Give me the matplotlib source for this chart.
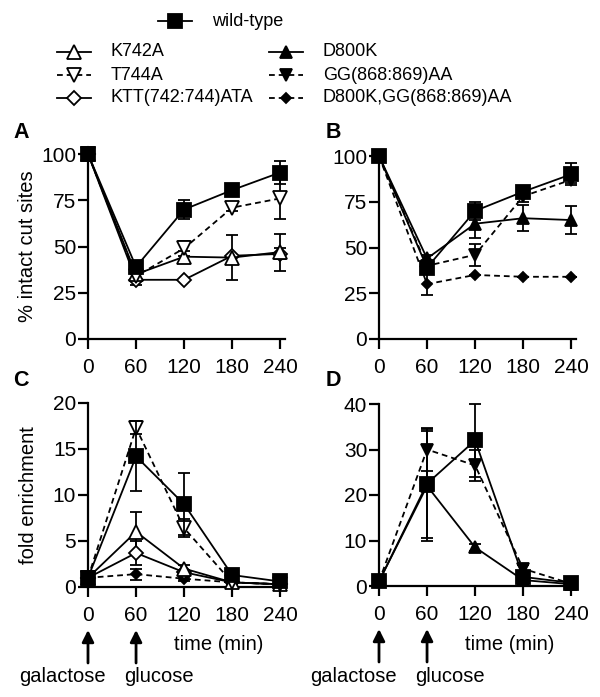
import numpy as np
import matplotlib
matplotlib.use('Agg')
import matplotlib.pyplot as plt
from matplotlib.lines import Line2D
from matplotlib.transforms import blended_transform_factory

plt.rcParams['font.family'] = ['Liberation Sans', 'DejaVu Sans']

time = [0, 60, 120, 180, 240]

# A: % intact cut sites
a_wt = [100, 39, 70, 80.5, 90]
a_wt_err = [0, 2, 5, 2, 6]
a_k742a = [100, 35, 44.5, 44, 47]
a_k742a_err = [0, 2, 3, 12, 10]
a_t744a = [100, 34, 49, 71, 76]
a_t744a_err = [0, 2, 4, 2, 11]
a_ktt = [100, 32, 32, 45, 46]
a_ktt_err = [0, 3, 0, 0, 3]

# B
b_wt = a_wt
b_wt_err = a_wt_err
b_d800k = [100, 44, 63, 66, 65]
b_d800k_err = [0, 2, 8, 7, 7.5]
b_gg = [100, 40, 46, 78, 87]
b_gg_err = [0, 2, 6, 3, 2]
b_dgg = [100, 30, 35, 34, 34]
b_dgg_err = [0, 6, 0, 0, 0]

# C: fold enrichment
c_wt = [1, 14.2, 9.0, 1.3, 0.6]
c_wt_err = [0, 3.8, 3.4, 0.3, 0.2]
c_k742a = [1, 6.0, 2.0, 0.5, 0.3]
c_k742a_err = [0, 2.2, 0.4, 0.2, 0.2]
c_t744a = [1, 17.3, 6.4, 0.5, 0.3]
c_t744a_err = [0, 0.7, 1.0, 0.2, 0.6]
c_ktt = [1, 3.7, 1.6, 0.5, 0.3]
c_ktt_err = [0, 1.3, 0.3, 0.1, 0.1]
c_dgg = [1, 1.4, 0.9, 0.5, 0.3]
c_dgg_err = [0, 0.6, 0.2, 0.1, 0.1]

# D
d_wt = [1, 22.5, 32, 2, 0.7]
d_wt_err = [0, 12, 8, 1, 0.3]
d_d800k = [1, 22, 8.5, 1.3, 0.4]
d_d800k_err = [0, 12, 0.8, 0.3, 0.2]
d_gg = [1, 30, 26.5, 3.8, 0.5]
d_gg_err = [0, 4.8, 3.5, 0.8, 0.2]

labels = ['wild-type', 'K742A', 'T744A', 'KTT(742:744)ATA',
          'D800K', 'GG(868:869)AA', 'D800K,GG(868:869)AA']

dash = (0, (3.2, 2.2))
styles = {
    'wild-type': dict(marker='s', ms=10.5, mfc='black', ls='-'),
    'K742A': dict(marker='^', ms=10.5, mfc='white', ls='-'),
    'T744A': dict(marker='v', ms=10.5, mfc='white', ls=dash),
    'KTT(742:744)ATA': dict(marker='D', ms=7.5, mfc='white', ls='-'),
    'D800K': dict(marker='^', ms=9, mfc='black', ls='-'),
    'GG(868:869)AA': dict(marker='v', ms=9, mfc='black', ls=dash),
    'D800K,GG(868:869)AA': dict(marker='D', ms=5.5, mfc='black', ls=dash),
}

fig = plt.figure(figsize=(6, 6.97), dpi=100)

W, H = 600, 697


def add_axes(left, bottom_px, height_px):
    return fig.add_axes([left / W, 1 - bottom_px / H, 197 / W, height_px / H])


def draw(ax, series, ymax, yticks):
    for name, y, err in series:
        st = styles[name]
        ax.errorbar(time, y, yerr=err, color='black', lw=1.3, ls=st['ls'],
                    marker=st['marker'], ms=st['ms'], mfc=st['mfc'], mec='black',
                    mew=1.3, capsize=4.5, capthick=1.3, elinewidth=1.3,
                    clip_on=False, zorder=3 if name != 'wild-type' else 4)
    ax.set_xlim(0, 246)
    ax.set_ylim(0, ymax)
    ax.set_xticks(time)
    ax.set_yticks(yticks)
    for s in ['top', 'right']:
        ax.spines[s].set_visible(False)
    for s in ['left', 'bottom']:
        ax.spines[s].set_linewidth(1.6)
    ax.tick_params(direction='out', length=7, width=1.6, labelsize=15, pad=1.5)
    ax.tick_params(axis='x', pad=7)


axA = add_axes(88, 339, 185)
draw(axA, [('KTT(742:744)ATA', a_ktt, a_ktt_err), ('K742A', a_k742a, a_k742a_err),
           ('T744A', a_t744a, a_t744a_err), ('wild-type', a_wt, a_wt_err)],
     100, [0, 25, 50, 75, 100])
axA.set_ylabel('% intact cut sites', fontsize=14.5, labelpad=3)

axB = add_axes(379, 339, 183)
draw(axB, [('D800K,GG(868:869)AA', b_dgg, b_dgg_err), ('GG(868:869)AA', b_gg, b_gg_err),
           ('D800K', b_d800k, b_d800k_err), ('wild-type', b_wt, b_wt_err)],
     100, [0, 25, 50, 75, 100])

axC = add_axes(88, 587, 184)
draw(axC, [('D800K,GG(868:869)AA', c_dgg, c_dgg_err), ('KTT(742:744)ATA', c_ktt, c_ktt_err),
           ('K742A', c_k742a, c_k742a_err), ('T744A', c_t744a, c_t744a_err),
           ('wild-type', c_wt, c_wt_err)],
     20, [0, 5, 10, 15, 20])
axC.set_ylabel('fold enrichment', fontsize=14.5, labelpad=11)

axD = add_axes(379, 586, 182)
draw(axD, [('D800K', d_d800k, d_d800k_err), ('GG(868:869)AA', d_gg, d_gg_err),
           ('wild-type', d_wt, d_wt_err)],
     40, [0, 10, 20, 30, 40])

# arrows and time labels under C and D
for ax, hpx in [(axC, 184), (axD, 182)]:
    tr = blended_transform_factory(ax.transData, ax.transAxes)
    for x in [0, 60]:
        ax.annotate('', xy=(x, -43 / hpx), xytext=(x, -76 / hpx),
                    xycoords=tr, textcoords=tr,
                    arrowprops=dict(arrowstyle='-|>,head_length=0.7,head_width=0.35',
                                    color='black', lw=2, shrinkA=0, shrinkB=0))
    ax.text(-32, -90 / hpx, 'galactose', transform=tr, ha='center', va='center', fontsize=14.5)
    ax.text(88, -90 / hpx, 'glucose', transform=tr, ha='center', va='center', fontsize=14.5)
    ax.text(163, -58 / hpx, 'time (min)', transform=tr, ha='center', va='center', fontsize=14.5)

# overlay for legend and panel letters (pixel coordinates)
ov = fig.add_axes([0, 0, 1, 1])
ov.set_xlim(0, W)
ov.set_ylim(H, 0)
ov.axis('off')

for letter, x, y in [('A', 21, 132), ('B', 333, 132), ('C', 21, 380), ('D', 333, 380)]:
    ov.text(x, y, letter, fontsize=15.5, fontweight='bold', ha='center', va='center')

legend_pos = {
    'wild-type': (158, 21),
    'K742A': (57, 52), 'T744A': (57, 75), 'KTT(742:744)ATA': (57, 98),
    'D800K': (269, 52), 'GG(868:869)AA': (269, 75), 'D800K,GG(868:869)AA': (269, 98),
}
for name in labels:
    x0, y0 = legend_pos[name]
    st = styles[name]
    ov.add_line(Line2D([x0, x0 + 34], [y0, y0], color='black', lw=1.3, ls=st['ls']))
    ov.plot([x0 + 17], [y0], marker=st['marker'], ms=st['ms'], mfc=st['mfc'],
            mec='black', mew=1.3, ls='none')
    ov.text(x0 + 54, y0, name, fontsize=13, ha='left', va='center')

fig.savefig('out.png', dpi=100)
